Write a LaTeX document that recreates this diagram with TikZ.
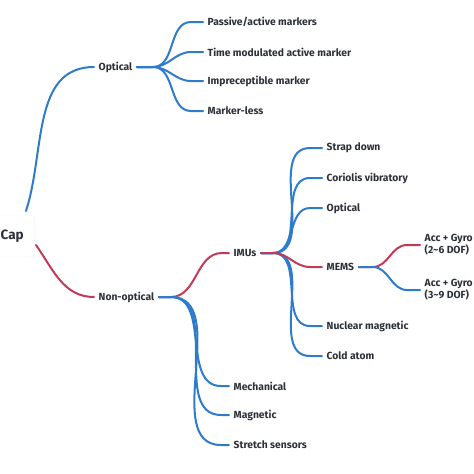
\documentclass[tikz,border=0pt]{standalone}
\usepackage{fontspec}
\setmainfont{Fira Sans}
\usetikzlibrary{positioning,calc}
\definecolor{brblue}{HTML}{2F7BCB}
\definecolor{brred}{HTML}{C23A55}
\definecolor{txt}{HTML}{2C3038}
\tikzset{
  every node/.append style={font=\bfseries\fontsize{10.3}{12}\selectfont, text=txt},
  lbl/.style={anchor=west, inner xsep=4.5pt, inner ysep=0pt, align=left},
  rootbox/.style={anchor=east, draw=black!6, fill=white, rounded corners=4pt,
                  inner xsep=11pt, minimum height=42pt,
                  font=\bfseries\fontsize{13.5}{15}\selectfont},
  bl/.style={draw=brblue, line width=2pt, line cap=round},
  rd/.style={draw=brred, line width=2pt, line cap=round},
}
\begin{document}
\begin{tikzpicture}[x=1pt,y=-1pt]
  \useasboundingbox (0,0) rectangle (474,474);
  \clip (0,0) rectangle (474,474);
  % --- root ---
  \node[rootbox] (root) at (35,236) {Cap};
  \coordinate (rtop) at (26,211);
  \coordinate (rbot) at (36,245);
  % --- optical branch ---
  \node[lbl] (opt) at (94,67) {Optical};
  \node[lbl] (pas) at (203,22)  {Passive/active markers};
  \node[lbl] (tim) at (203,52)  {Time modulated active marker};
  \node[lbl] (imp) at (203,81)  {Impreceptible marker};
  \node[lbl] (mkl) at (203,111) {Marker-less};
  % --- non-optical branch ---
  \node[lbl] (nop) at (94,297)  {Non-optical};
  \node[lbl] (imu) at (229,253) {IMUs};
  \node[lbl] (mec) at (229,386) {Mechanical};
  \node[lbl] (mag) at (229,415) {Magnetic};
  \node[lbl] (str) at (229,445) {Stretch sensors};
  % --- IMU kinds ---
  \node[lbl] (sdn) at (322,148) {Strap down};
  \node[lbl] (cor) at (322,178) {Coriolis vibratory};
  \node[lbl] (iop) at (322,208) {Optical};
  \node[lbl] (mem) at (322,267) {MEMS};
  \node[lbl] (nuc) at (322,326) {Nuclear magnetic};
  \node[lbl] (cld) at (322,356) {Cold atom};
  % --- MEMS kinds ---
  \node[lbl] (ag1) at (420,245) {Acc + Gyro\\(2\textasciitilde6 DOF)};
  \node[lbl] (ag2) at (420,290) {Acc + Gyro\\(3\textasciitilde9 DOF)};

  % connectors
  \draw[bl] (rtop) to[out=72,in=180] (opt.west);
  \draw[rd] (rbot) to[out=-55,in=180] (nop.west);
  \foreach \c in {pas,tim,imp,mkl}
    \draw[bl] (opt.east) -- ++(16,0) to[out=0,in=180] ($(\c.west)+(-12,0)$) -- (\c.west);
  \draw[rd] (nop.east) -- ++(12,0) to[out=0,in=180] ($(imu.west)+(-7,0)$) -- (imu.west);
  \foreach \c in {mec,mag,str}
    \draw[bl] (nop.east) -- ++(12,0) to[out=0,in=180] ($(\c.west)+(-8,0)$) -- (\c.west);
  \foreach \c in {sdn,cor,iop,nuc,cld}
    \draw[bl] (imu.east) -- ++(12,0) to[out=0,in=180] ($(\c.west)+(-12,0)$) -- (\c.west);
  \draw[rd] (imu.east) -- ++(12,0) to[out=0,in=180] ($(mem.west)+(-12,0)$) -- (mem.west);
  \draw[rd] (mem.east) -- ++(14,0) to[out=0,in=180] ($(ag1.west)+(-13,0)$) -- (ag1.west);
  \draw[bl] (mem.east) -- ++(14,0) to[out=0,in=180] ($(ag2.west)+(-13,0)$) -- (ag2.west);
\end{tikzpicture}
\end{document}
